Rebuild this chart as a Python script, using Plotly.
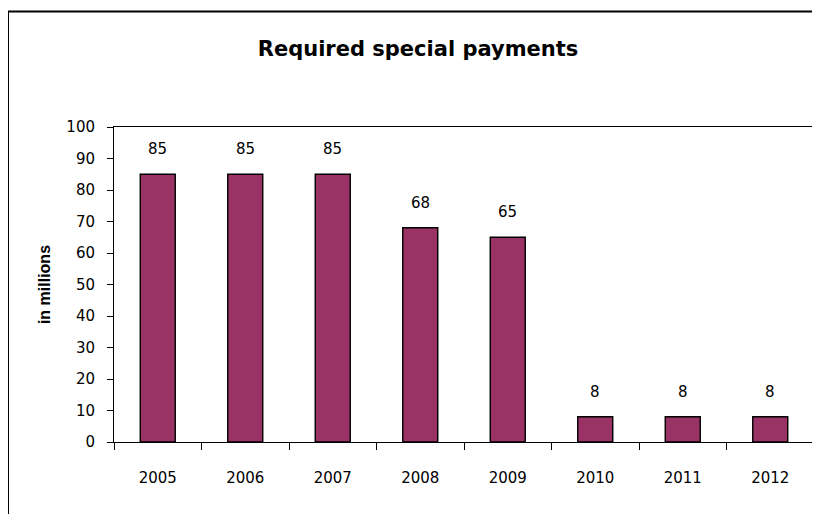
import plotly.graph_objects as go

years = ["2005", "2006", "2007", "2008", "2009", "2010", "2011", "2012"]
payments = [85, 85, 85, 68, 65, 8, 8, 8]
y_ticks = [0, 10, 20, 30, 40, 50, 60, 70, 80, 90, 100]

BAR_COLOR = "#993366"
TICK_FONT = dict(family="DejaVu Sans", size=15, color="#000000")

fig = go.Figure()
fig.add_trace(go.Bar(
    x=years, y=payments,
    marker=dict(color=BAR_COLOR, line=dict(color="#000000", width=1.4)),
    width=0.4,
    hoverinfo="x+y",
))

for i, v in enumerate(payments):
    fig.add_annotation(x=i, y=v, text=str(v), showarrow=False,
                       yanchor="bottom", yshift=14, font=TICK_FONT)

# outer frame (top + left edges of the original picture)
fig.add_shape(type="line", xref="paper", yref="paper",
              x0=-0.1514, x1=1.03, y0=1.3667, y1=1.3667,
              line=dict(color="#000000", width=2))
fig.add_shape(type="line", xref="paper", yref="paper",
              x0=-0.1514, x1=-0.1514, y0=1.3667, y1=-0.3,
              line=dict(color="#000000", width=2))

fig.update_layout(
    width=820, height=514,
    margin=dict(l=106, r=14, t=119, b=80),
    paper_bgcolor="#ffffff", plot_bgcolor="#ffffff",
    showlegend=False,
    title=dict(text="<b>Required special payments</b>", x=0.5, xanchor="center",
               y=0.92, yanchor="middle",
               font=dict(family="DejaVu Sans", size=21, color="#000000")),
)
fig.update_xaxes(
    type="category", range=[-0.5, len(years) - 0.5],
    tickson="boundaries", ticks="outside", ticklen=7, tickangle=0,
    tickcolor="#000000", showline=True, linecolor="#000000", linewidth=1,
    mirror=True, showgrid=False, tickfont=TICK_FONT, ticklabelstandoff=22,
)
fig.update_yaxes(
    range=[0, 100], tickvals=y_ticks, ticks="outside", ticklen=6,
    tickcolor="#000000", showline=True, linecolor="#000000", linewidth=1,
    mirror=True, showgrid=False, zeroline=False, tickfont=TICK_FONT,
    ticklabelstandoff=9,
    title=dict(text="<b>in millions</b>", standoff=11,
               font=dict(family="Liberation Sans", size=16, color="#000000")),
)

fig.write_html("out.html")
